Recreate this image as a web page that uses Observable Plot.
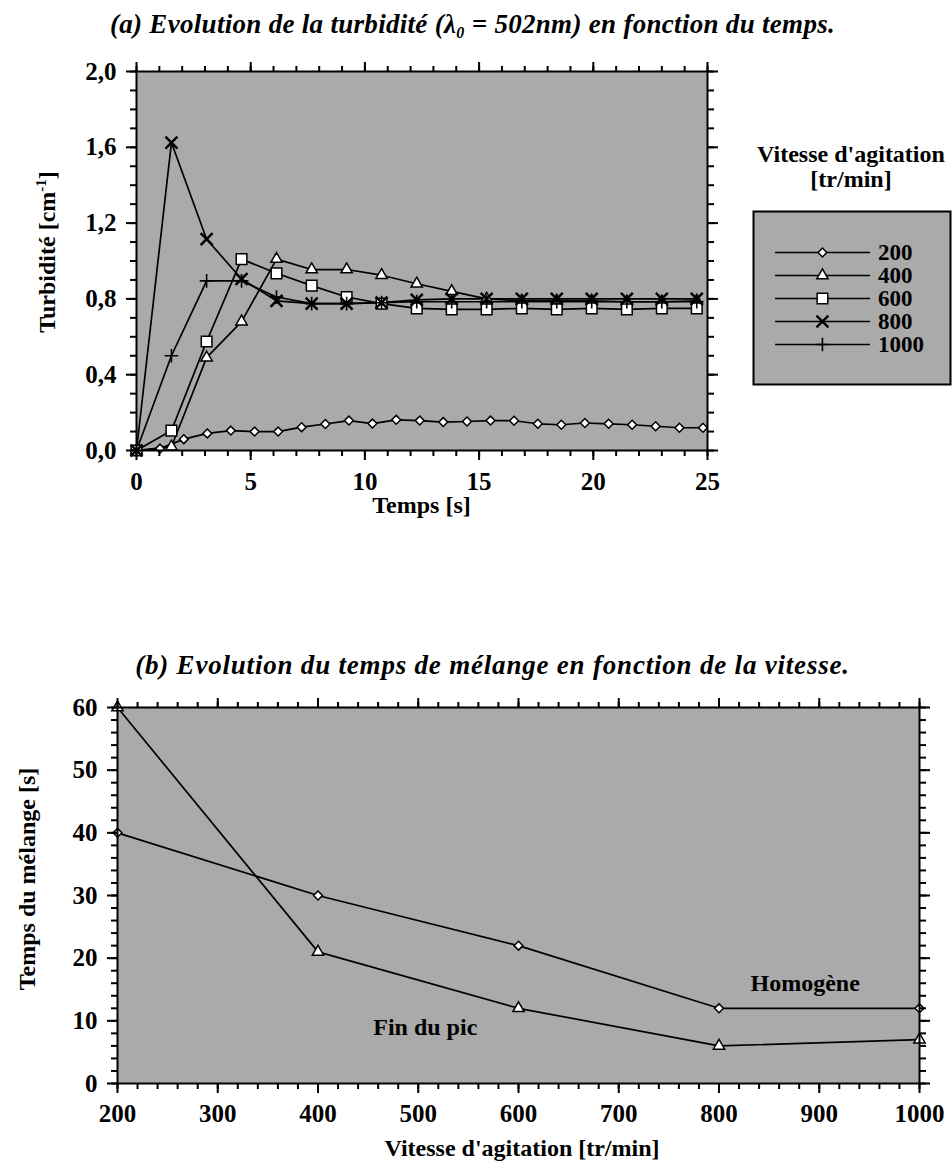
<!DOCTYPE html>
<html><head><meta charset="utf-8">
<script src="https://cdn.jsdelivr.net/npm/d3@7"></script>
<script src="https://cdn.jsdelivr.net/npm/@observablehq/plot@0.6"></script>
<style>
html,body{margin:0;padding:0;background:#fff;overflow:hidden;}
#root{position:relative;width:952px;height:1169px;font-family:"Liberation Serif","Times New Roman",serif;color:#000;}
#root svg, #root svg text{font-family:"Liberation Serif","Times New Roman",serif !important;font-weight:bold;}
.abs{position:absolute;white-space:nowrap;}
.title{font-style:italic;font-weight:bold;font-size:27px;line-height:30px;text-align:center;letter-spacing:0.3px;}
.lab{font-weight:bold;font-size:24px;line-height:28px;text-align:center;}
.rot{transform:translate(-50%,-50%) rotate(-90deg);}
sup{font-size:15px;vertical-align:9px;line-height:0;}
sub{font-size:16px;vertical-align:-5px;line-height:0;}
</style></head><body>
<svg width="0" height="0" style="position:absolute"><defs>
<pattern id="dots" width="2" height="2" patternUnits="userSpaceOnUse">
<rect width="2" height="2" fill="#fff"/><rect width="1" height="1" fill="#555"/><rect x="1" y="1" width="1" height="1" fill="#555"/>
</pattern></defs></svg>
<div id="root">
  <div class="abs title" style="left:0;width:945px;top:9px;">(a) Evolution de la turbidité (λ<sub>0</sub> = 502nm) en fonction du temps.</div>
  <div id="chartA" class="abs" style="left:0;top:40px;"></div>
  <div class="abs lab rot" style="left:47px;top:252px;">Turbidité [cm<sup>-1</sup>]</div>
  <div class="abs lab" style="left:0;width:843px;top:491px;">Temps [s]</div>
  <div class="abs lab" style="left:751px;width:200px;top:142px;line-height:25px;">Vitesse d'agitation<br>[tr/min]</div>
  <div id="legend" class="abs" style="left:753px;top:211px;"></div>
  <div class="abs title" style="left:0;width:985px;top:650px;letter-spacing:0.8px;">(b) Evolution du temps de mélange en fonction de la vitesse.</div>
  <div id="chartB" class="abs" style="left:0;top:690px;"></div>
  <div class="abs lab rot" style="left:27px;top:879px;">Temps du mélange [s]</div>
  <div class="abs lab" style="left:0;width:1044px;top:1134px;">Vitesse d'agitation [tr/min]</div>
</div>
<script>
// ---------- Data: chart (a) ----------
const series = ["200", "400", "600", "800", "1000"];
const t200 = [0, 1.03, 2.07, 3.1, 4.13, 5.17, 6.2, 7.23, 8.27, 9.3, 10.33, 11.37, 12.4, 13.43, 14.47, 15.5, 16.53, 17.57, 18.6, 19.63, 20.67, 21.7, 22.73, 23.77, 24.8];
const v200 = [0, 0.01, 0.06, 0.09, 0.105, 0.10, 0.10, 0.123, 0.14, 0.158, 0.142, 0.162, 0.158, 0.15, 0.153, 0.158, 0.157, 0.141, 0.136, 0.145, 0.141, 0.136, 0.128, 0.12, 0.12];
const tFast = [0, 1.53, 3.07, 4.6, 6.13, 7.67, 9.2, 10.73, 12.27, 13.8, 15.33, 16.87, 18.4, 19.93, 21.47, 23.0, 24.53];
const v400 = [0, 0.02, 0.49, 0.68, 1.01, 0.955, 0.955, 0.925, 0.88, 0.84, 0.80, 0.79, 0.79, 0.79, 0.785, 0.785, 0.79];
const v600 = [0, 0.105, 0.575, 1.01, 0.935, 0.87, 0.81, 0.775, 0.75, 0.745, 0.745, 0.75, 0.745, 0.75, 0.745, 0.75, 0.75];
const v800 = [0, 1.625, 1.115, 0.905, 0.79, 0.775, 0.775, 0.78, 0.795, 0.80, 0.80, 0.80, 0.80, 0.80, 0.80, 0.80, 0.80];
const v1000 = [0, 0.50, 0.895, 0.895, 0.81, 0.775, 0.775, 0.78, 0.785, 0.785, 0.785, 0.785, 0.785, 0.785, 0.785, 0.785, 0.785];
const xTicksA = [0, 5, 10, 15, 20, 25];
const yTicksA = [0, 0.4, 0.8, 1.2, 1.6, 2.0];

// ---------- Data: chart (b) ----------
const speeds = [200, 400, 600, 800, 1000];
const homogene = [40, 30, 22, 12, 12];
const finPic = [60, 21, 12, 6, 7];
const xTicksB = [200, 300, 400, 500, 600, 700, 800, 900, 1000];
const yTicksB = [0, 10, 20, 30, 40, 50, 60];
const annotationsB = [
  {x: 886, y: 16.0, label: "Homogène"},
  {x: 507, y: 8.9, label: "Fin du pic"}
];

// ---------- Build tables ----------
const valuesA = {"200": v200, "400": v400, "600": v600, "800": v800, "1000": v1000};
const rowsA = series.flatMap(s => (s === "200" ? t200 : tFast).map((t, i) => ({t, v: valuesA[s][i], s})));
const rowsB = [
  ...speeds.map((x, i) => ({x, y: homogene[i], s: "Homogène"})),
  ...speeds.map((x, i) => ({x, y: finPic[i], s: "Fin du pic"}))
];

const markerStyle = {
  "200": {symbol: "diamond2", r: 4, fill: "white", strokeWidth: 1.5},
  "400": {symbol: "triangle", r: 4.2, fill: "white", strokeWidth: 1.5},
  "600": {symbol: "square", r: 6, fill: "white", strokeWidth: 1.5},
  "800": {symbol: "times", r: 5.5, fill: "none", strokeWidth: 2.5},
  "1000": {symbol: "plus", r: 4.5, fill: "none", strokeWidth: 1.6}
};

const blank = () => "";
const fmtA = d => d.toFixed(1).replace(".", ",");
const baseStyle = {fontFamily: "'Liberation Serif', 'Times New Roman', serif", fontSize: "24px", fontWeight: "bold", background: "transparent", overflow: "visible", color: "black"};

function boxAxes(xMinor, xMajor, yMinor, yMajor, xFmt, yFmt, xPad, yPad) {
  const tw = 2;
  return [
    Plot.axisX({anchor: "bottom", ticks: xMinor, tickSize: 6, tickFormat: blank, label: null, strokeWidth: tw}),
    Plot.axisX({anchor: "bottom", ticks: xMajor, tickSize: 10, tickPadding: xPad, tickFormat: xFmt, label: null, strokeWidth: tw, fontSize: 25}),
    Plot.axisX({anchor: "top", ticks: xMinor, tickSize: 6, tickFormat: blank, label: null, strokeWidth: tw}),
    Plot.axisX({anchor: "top", ticks: xMajor, tickSize: 10, tickFormat: blank, label: null, strokeWidth: tw}),
    Plot.axisY({anchor: "left", ticks: yMinor, tickSize: 6, tickFormat: blank, label: null, strokeWidth: tw}),
    Plot.axisY({anchor: "left", ticks: yMajor, tickSize: 10, tickPadding: yPad, tickFormat: yFmt, label: null, strokeWidth: tw, fontSize: 25}),
    Plot.axisY({anchor: "right", ticks: yMinor, tickSize: 6, tickFormat: blank, label: null, strokeWidth: tw}),
    Plot.axisY({anchor: "right", ticks: yMajor, tickSize: 10, tickFormat: blank, label: null, strokeWidth: tw})
  ];
}

// ---------- Chart (a) ----------
const chartA = Plot.plot({
  width: 760, height: 480,
  marginLeft: 136, marginRight: 53, marginTop: 31, marginBottom: 70,
  style: baseStyle,
  x: {domain: [0, 25]},
  y: {domain: [0, 2]},
  marks: [
    Plot.frame({fill: "url(#dots)", stroke: null}),
    Plot.line(rowsA, {x: "t", y: "v", z: "s", stroke: "black", strokeWidth: 1.7}),
    ...series.map(s => Plot.dot(rowsA.filter(d => d.s === s), {x: "t", y: "v", stroke: "black", ...markerStyle[s]})),
    ...boxAxes(d3.range(0, 25.5, 1), xTicksA, d3.range(0, 2.05, 0.1), yTicksA, d => String(d), fmtA, 12, 10),
    Plot.frame({stroke: "black", strokeWidth: 2})
  ]
});
document.getElementById("chartA").append(chartA);

// ---------- Legend ----------
const legend = Plot.plot({
  width: 197, height: 173, margin: 0,
  style: baseStyle,
  x: {domain: [0, 1], axis: null},
  y: {type: "point", domain: series, range: [29, 144], axis: null},
  marks: [
    Plot.frame({fill: "url(#dots)", stroke: null}),
    Plot.ruleY(series, {y: d => d, x1: 0.112, x2: 0.594, stroke: "black", strokeWidth: 1.7}),
    ...series.map(s => Plot.dot([s], {x: 0.35, y: d => d, stroke: "black", ...markerStyle[s]})),
    Plot.text(series, {x: 0.632, y: d => d, text: d => d, textAnchor: "start", fontSize: 23, fontWeight: "bold"}),
    Plot.frame({stroke: "black", strokeWidth: 2})
  ]
});
document.getElementById("legend").append(legend);

// ---------- Chart (b) ----------
const chartB = Plot.plot({
  width: 952, height: 470,
  marginLeft: 117, marginRight: 33, marginTop: 17, marginBottom: 77,
  style: baseStyle,
  x: {domain: [200, 1000]},
  y: {domain: [0, 60]},
  marks: [
    Plot.frame({fill: "url(#dots)", stroke: null}),
    Plot.line(rowsB, {x: "x", y: "y", z: "s", stroke: "black", strokeWidth: 1.7}),
    Plot.dot(rowsB.filter(d => d.s === "Homogène"), {x: "x", y: "y", symbol: "diamond2", r: 4, fill: "white", stroke: "black", strokeWidth: 1.5}),
    Plot.dot(rowsB.filter(d => d.s === "Fin du pic"), {x: "x", y: "y", symbol: "triangle", r: 4.2, fill: "white", stroke: "black", strokeWidth: 1.5}),
    Plot.text(annotationsB, {x: "x", y: "y", text: "label", fontSize: 24, fontWeight: "bold"}),
    ...boxAxes(d3.range(200, 1001, 20), xTicksB, d3.range(0, 61, 2), yTicksB, d => String(d), d => String(d), 11, 10),
    Plot.frame({stroke: "black", strokeWidth: 2})
  ]
});
document.getElementById("chartB").append(chartB);
</script>
</body></html>
